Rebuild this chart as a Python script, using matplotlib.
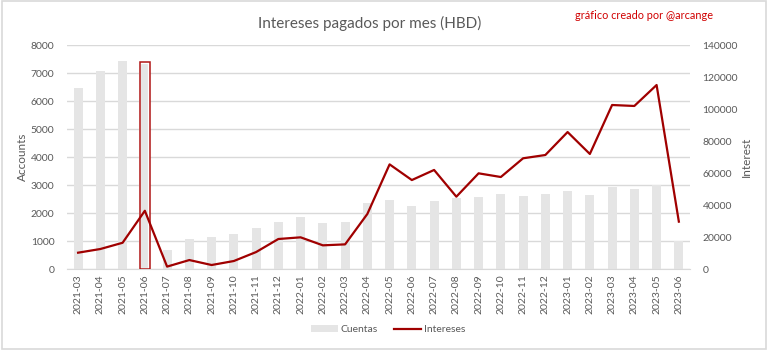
import matplotlib
matplotlib.use("Agg")
import matplotlib.pyplot as plt
import numpy as np
from matplotlib.patches import Rectangle
from matplotlib.lines import Line2D
from matplotlib.patches import Patch

months = ["2021-03", "2021-04", "2021-05", "2021-06", "2021-07", "2021-08", "2021-09",
          "2021-10", "2021-11", "2021-12", "2022-01", "2022-02", "2022-03", "2022-04",
          "2022-05", "2022-06", "2022-07", "2022-08", "2022-09", "2022-10", "2022-11",
          "2022-12", "2023-01", "2023-02", "2023-03", "2023-04", "2023-05", "2023-06"]
cuentas = [6450, 7080, 7430, 7350, 680, 1070, 1140, 1240, 1460, 1670, 1870, 1630, 1690, 2370,
           2450, 2260, 2430, 2550, 2560, 2690, 2620, 2690, 2790, 2660, 2940, 2860, 3000, 1000]
intereses = [10200, 12500, 16400, 36400, 1500, 5600, 2500, 5000, 10600, 18750, 19800, 14800,
             15400, 34400, 65400, 55600, 61900, 45200, 59800, 57500, 69200, 71250, 85600,
             71900, 102500, 101900, 115000, 29600]
highlight = "2021-06"

plt.rcParams['font.family'] = ['Lato', 'DejaVu Sans']
txt = '#595959'
grid = '#d9d9d9'
barc = '#e5e5e5'
linec = '#a00000'

fig = plt.figure(figsize=(7.68, 3.5), dpi=100)
fig.patches.append(Rectangle((0.002, 0.003), 0.996, 0.994, transform=fig.transFigure,
                             fill=False, edgecolor='#d9d9d9', linewidth=1.2))
ax = fig.add_axes([0.0872, 0.2314, 0.8112, 0.64])
ax2 = ax.twinx()

x = np.arange(len(months))
bw = 0.40
ax.bar(x, cuentas, width=bw, color=barc, zorder=2)
hi = months.index(highlight)
ax.bar(x[hi], cuentas[hi], width=bw, color=barc, edgecolor='white', linewidth=1.6, zorder=3)
ax.bar(x[hi], cuentas[hi] + 40, width=bw + 0.06, fill=False, edgecolor='#b01515',
       linewidth=1.1, zorder=3)
ax.set_ylim(0, 8000)
ax.set_yticks(range(0, 8001, 1000))
ax.set_xlim(-0.5, len(months) - 0.5)
ax.set_xticks(x)
ax.set_xticklabels(months, rotation=90)
ax.grid(axis='y', color=grid, linewidth=1, zorder=0)
ax.set_axisbelow(True)

ax2.plot(x, intereses, color=linec, linewidth=1.6, zorder=4)
ax2.set_ylim(0, 140000)
ax2.set_yticks(range(0, 140001, 20000))

for a in (ax, ax2):
    for s in a.spines.values():
        s.set_visible(False)
    a.tick_params(length=0, labelsize=7.5, colors=txt)
ax.spines['bottom'].set_visible(True)
ax.spines['bottom'].set_color(grid)
ax.tick_params(axis='x', pad=4)
ax.tick_params(axis='y', pad=9)
ax2.tick_params(axis='y', pad=9)

ax.set_ylabel("Accounts", color=txt, fontsize=8.5, labelpad=2)
ax2.set_ylabel("Interest", color=txt, fontsize=8.5, labelpad=2)

fig.text(0.482, 0.932, "Intereses pagados por mes (HBD)", ha='center', va='center',
         fontsize=11, color=txt)
fig.text(0.929, 0.957, "gráfico creado por @arcange", ha='right', va='center',
         fontsize=7.8, color='#d00000')

handles = [Patch(facecolor=barc, edgecolor='none', label='Cuentas'),
           Line2D([0], [0], color=linec, linewidth=1.6, label='Intereses')]
fig.legend(handles=handles, loc='center', bbox_to_anchor=(0.505, 0.058), ncol=2,
           frameon=False, fontsize=7.5, labelcolor=txt, handlelength=2.6,
           handleheight=0.6, columnspacing=1.5, handletextpad=0.3)

fig.savefig("out.png", dpi=100)
